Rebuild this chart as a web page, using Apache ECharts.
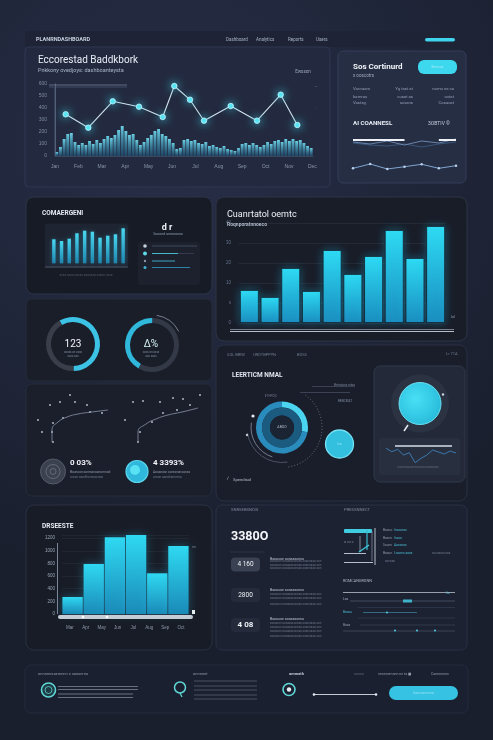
<!DOCTYPE html>
<html><head><meta charset="utf-8">
<script src="https://cdn.jsdelivr.net/npm/echarts@6/dist/echarts.min.js"></script>
<style>html,body{margin:0;padding:0;background:#1d2233;}#c{width:493px;height:740px;}</style>
</head><body><div id="c"></div>
<script>
// ---------- DATA ----------
const trendX = [10.7, 33.3, 57.7, 84, 107.7, 119.3, 135, 149, 175.7, 202, 225.7, 242.3];
const trendY = [41.7, 28.3, 54.7, 49.3, 39, 70, 56.3, 35.3, 50, 35.3, 61.3, 31];
const trendXLabels = ['Jan','Feb','Mar','Apr','May','Jun','Jul','Aug','Sep','Oct','Nov','Dec'];
const trendYLabels = ['0','100','200','300','400','500','600'];
const histValues = [4,9,17,22,23,14,11,13,11,15,12,16,13,17,20,18,21,26,30,25,21,22,16,11,14,18,21,25,27,22,20,17,13,7,8,16,17,15,16,13,12,14,10,11,9,8,10,7,6,5,8,12,13,11,13,11,9,11,14,12,15,16,14,17,15,17,15,16,13,10,8];
const sparkCats = ['1','2','3','4','5','6','7'];
const sparkWhiteA = [32,32,32,32,null,null,null];
const sparkWhiteB = [null,null,null,null,null,32,32];
const sparkBlue = [30,28,31,27,31,29,33];
const sparkBlue2 = [29,27,26,28,25,28,30];
const sparkLow = [3.7,8,3,5.3,7.7,3.7,6.3];
const miniCats = ['a','b','c','d','e','f','g','h','i','j'];
const miniBars = [24,22.3,24.6,30,32.6,31.6,25.6,27.6,29,35];
const compareCats = ['Q1','Q2','Q3','Q4','Q5','Q6','Q7','Q8','Q9','Q10'];
const compareBars = [33,26,55,32,73,49,67,93,65,97];
const compareYLabels = ['0','s','10','20','30','40'];
const gaugeA = [58,42];
const gaugeB = [42,58];
const ringOuter = [28,72];
const starsA = [[20,45],[30,48],[45,48],[57,45],[60,38],[33,32],[23,27],[22,18],[12,18],[23,8],[72,37],[8,30],[40,55]];
const starsB = [[103,48],[113,49],[130,48],[143,52],[153,51],[147,40],[133,37],[122,28],[110,18],[108,8],[160,45],[95,30],[170,55]];
const pathA = [[22,8],[22,20],[28,28],[37,33],[48,36],[62,38],[78,40]];
const pathB = [[108,8],[108,18],[116,26],[126,31],[138,35],[152,38],[168,42]];
const distCats = ['A','B','C','D','E','F'];
const distBars = [269,791,1214,1250,644,1076];
const distYLabels = ['0','200','400','600','800','1000','1200'];
const distXLabels = ['Mar','Apr','May','Jun','Jul','Aug','Sep','Oct'];
const subLine = [17.7,14.3,16.7,11,13.3,3.3,7.7,11,16,14,12,15,13];

// ---------- DECOR ----------
const g = [];
const F = 'Roboto, "DejaVu Sans", sans-serif';
function rect(x,y,w,h,fill,r,stroke,z){ g.push({type:'rect', z: (z===undefined?0:z), silent:true, shape:{x,y,width:w,height:h,r:r||0}, style:{fill, stroke: stroke||'none', lineWidth: stroke?1:0}}); }
function text(x,y,t,size,fill,weight,align){ g.push({type:'text', z:20, silent:true, x, y, style:{text:t, fill:fill||'#cdd5e1', font:(weight||'normal')+' '+size+'px '+F, align:align||'left', verticalAlign:'middle'}}); }
function line(x1,y1,x2,y2,stroke,w,z){ g.push({type:'line', z:(z===undefined?5:z), silent:true, shape:{x1,y1,x2,y2}, style:{stroke, lineWidth:w||1}}); }
function circle(cx,cy,r,fill,stroke,w,z){ g.push({type:'circle', z:(z===undefined?5:z), silent:true, shape:{cx,cy,r}, style:{fill:fill||'none', stroke:stroke||'none', lineWidth:w||1}}); }
function arc(cx,cy,r,sa,ea,stroke,w,dash){ g.push({type:'arc', z:5, silent:true, shape:{cx,cy,r,startAngle:sa,endAngle:ea}, style:{stroke, lineWidth:w||1, fill:'none', lineDash:dash||null}}); }
const LG = (a,b)=> new echarts.graphic.LinearGradient(0,0,0,1,[{offset:0,color:a},{offset:1,color:b}]);

// background
g.push({type:'rect', z:-10, silent:true, shape:{x:0,y:0,width:493,height:740}, style:{fill:new echarts.graphic.RadialGradient(0.35,0.2,0.9,[{offset:0,color:'#272e47'},{offset:1,color:'#1a1f2e'}])}});
// panels
rect(25,31,440,16,'#1e2436',3);
rect(25,47,305,140,'#232a3f',4,'#2e3652');
rect(338,51,128,132,'#262e44',5,'#343d58');
rect(26,197,186,97,'#171b25',8,'#2d3447');
rect(216,197,251,144,'#191d28',8,'#2e3546');
rect(26,299,186,82,'#1a1e29',6,'#262c3a');
rect(26,384,186,112,'#1b1f2b',6,'#262c3a');
rect(216,345,251,156,'#1a1e2a',8,'#2a3042');
rect(374,366,91,116,'#232938',6,'#30384a');
rect(379,438,81,37,'#283040',3);
rect(26,505,186,145,'#181c26',8,'#2a3142');
rect(216,505,251,145,'#1d2232',6,'#283045');
rect(25,665,443,48,'#1b2030',6,'#252b3c');

// header
text(36,39.5,'PLANRNDASHBOARD',5.5,'#c5cedb','bold');
text(226,39.5,'Dashboard',4.5,'#a7b2c4'); text(256,39.5,'Analytics',4.5,'#a7b2c4');
text(288,39.5,'Reports',4.5,'#a7b2c4'); text(316,39.5,'Users',4.5,'#a7b2c4');
rect(425,38,30,3.5,'#3fd3ee',2,null,5);
// panel 1
text(38,60,'Eccorestad Baddkbork',10,'#e8eef6');
text(38,70.5,'Pnkkony ovedjoys: dashboanteysta',5.5,'#a9b5c6');
text(303,72,'Ewsson',4.5,'#9aa6ba','normal','center');
line(49,85,127,85,'#6f7c96',0.8); line(49,87,127,87,'#56627c',0.6);
line(55,87,55,156,'#4e5a74',0.8);
text(316,87,'—',4,'#7c889c','normal','center'); text(316,108,'·',4,'#7c889c','normal','center');

// panel 2
text(353,66.5,'Sos Cortinurd',8,'#f0f4f8','bold');
text(353,75.5,'x ooscotrs',4.5,'#a0acbe');
rect(418,60,39,14,'#3dd8ee',6,null,5);
text(437.5,67,'Bonnus',3.5,'#9beaf6','normal','center');
[[89,'Vaxvaam','Yg tast at','nomo ea ca'],[96.5,'bamrau','cusat as','cotat'],[102.5,'Vastsg','sxxans','Cosacat']].forEach(r=>{
  text(353,r[0],r[1],4.2,'#8f9bb0'); text(413,r[0],r[2],4.2,'#8f9bb0','normal','right'); text(454,r[0],r[3],4.2,'#8f9bb0','normal','right');
});
text(353,123.5,'AI COANNESL',6.2,'#e6ebf2','bold');
text(428,123.5,'3OBTIV ©',5,'#c5cedb');

// row 2 left
text(42,213,'COMAERGENI',6.5,'#e4e9f1','bold');
rect(45,223.5,83,44,'#1e2431',2);
line(45,267,128,267,'#5a6479',0.8);
text(86,275,'sssa sosa sossa asonssa ssson sssa',3.2,'#4e586b','normal','center');
text(167,228,'d r',9,'#eef2f7','bold','center');
text(168,234.5,'Sooond anrononso',3.5,'#8e9ab0','normal','center');
rect(138,242,62,43,'#1c212d',3);
circle(145,246,1.8,'#c6d0dc'); line(152,246,197,246,'#4a5468',0.8);
circle(145,253.5,2,'#5fd9e8'); line(152,253.5,178,253.5,'#4ec8dc',0.9); line(178,253.5,194,253.5,'#3a4358',0.8);
circle(145,261,1.2,'#8a95a8'); line(152,261,175,261,'#3fb3d2',0.9);
circle(145,267.5,1.5,'#3fb3d2'); line(152,267.5,190,267.5,'#2f8fb8',0.9);

// row 2 right
text(227,214.5,'Cuanrtatol oemtc',9,'#edf2f7');
text(227,225,'Roqnporatnnoeco',5,'#aeb9c9','bold');
line(230,329.5,454,329.5,'#8a94a6',0.8); line(230,331.5,454,331.5,'#c9d0da',0.9);
text(453,317,'lul',3.5,'#9aa6ba','normal','center');

// row 3 left (gauges)
text(73,344,'123',10,'#f3f6fa','normal','center');
text(73,352,'oooxs on ooxs',2.8,'#7b879b','normal','center');
text(73,356,'ooxs oox',2.8,'#7b879b','normal','center');
text(151,344,'Δ%',10,'#d8f4f7','normal','center');
text(151,352,'ooxs on ooxs',2.8,'#7b879b','normal','center');
text(151,356,'oox ooxs',2.8,'#7b879b','normal','center');
arc(152,345,30,-Math.PI*0.45,-Math.PI*0.15,'#8c96a8',0.8);

// row 3 left bottom
circle(53,471.5,12.5,'#3b414e','#555c6b',1);
circle(53,471.5,7,'none','#6c7482',0.8); circle(53,471.5,3,'none','#7d8594',0.6);
text(70,463,'0 03%',8,'#f0f3f8','bold');
text(70,472.5,'Bounoon ooresanoanomnod',3.2,'#8e99ac'); text(70,477.5,'oroon aandhomnosnoo',3.2,'#6f7a8e');
circle(137,471.5,11,'#2fb7dc','#5ad3ea',1.2);
circle(135,470,5,'#59e1f4');
text(153,463,'4 3393%',8,'#f0f3f8','bold');
text(153,472.5,'Aooanasn oorssnanoanas',3.2,'#8e99ac'); text(153,477.5,'oroon aanohammna',3.2,'#6f7a8e');

// row 3 right
text(227,355,'SOL BRIW',4,'#707b90'); text(253,355,'UROTBPPYN',4,'#707b90'); text(297,355,'BOSS',4,'#707b90');
text(446,353.5,'Lr 71A',4,'#707b90');
text(232,375,'LEERTICM NMAL',6.5,'#dfe5ee','bold');
text(271,396.5,'ETHPDIC',3,'#6e7a8e','normal','center');
line(312,386.5,355,386.5,'#505a6e',0.6); text(355,385,'Brtnotons mtoo',3,'#7c889c','normal','right');
line(300,392.5,350,392.5,'#505a6e',0.6);
text(352,401.5,'BRNCMAT',3,'#7c889c','normal','right');
circle(282,427.5,12,'#1b2433');
text(282,427.5,'ABOO',3.5,'#b0bccc','normal','center');
arc(282,427.5,31,Math.PI*0.6,Math.PI*1.05,'#8a94a6',0.8);
arc(282,427.5,35,Math.PI*0.45,Math.PI*0.95,'#6b7588',0.6);
arc(282,427.5,40,-Math.PI*0.3,Math.PI*0.45,'#7a8497',0.8,[1,2]);
circle(253,416,1.6,'#e6ecf2'); circle(247,435,1.2,'#c0c8d4');
circle(339.5,444,14,'#33c0df','#74e2f2',1.3);
text(339.5,444,'Iuo',3,'#8fe4f2','normal','center');
circle(420,403.5,29,'#2b3343');
circle(420,403.5,21,new echarts.graphic.RadialGradient(0.4,0.4,0.7,[{offset:0,color:'#49e0f5'},{offset:1,color:'#24b7d8'}]),'#6ae0f1',1);
circle(443,394.5,1.2,'#c9d3de');
line(404,431,408,425,'#e6ecf2',1.5);
line(395,446,452,446,'#d8dee7',1.3);
text(418,467,'oooonssaoonnonnos oanaoooss',2.8,'#5e697c','normal','center');
text(233,480,'Spendisol',4.2,'#aeb8c8');
text(228,479,'⁄',5,'#c9d3de','normal','center');

// row 4 left
text(42,526.5,'DRSEESTE',6.5,'#e6ebf2','bold');
line(57.5,543,57.5,614,'#8892a5',0.9);
rect(58,615,135,4,'#c6ccd6',2,null,5);
circle(83,617,1.3,'#ffffff',null,1,6); circle(107,617,1.3,'#ffffff',null,1,6);
rect(192,610,3,4,'#e6ebf2',0,null,5);
text(194,547.5,'m',3.5,'#9aa5b8','normal','center');

// row 4 right
text(231,510,'SNRSEBSNOSI',4.2,'#7d889c');
text(344,510,'PRESSNNECT',4.2,'#7d889c');
text(231,537,'3380O',12.5,'#f5f7fa','bold');
line(230,552,265,552,'#303849',0.8);
[[557.5,'4 160'],[588,'2800'],[618,'4 08']].forEach((b,i)=>{
  rect(231,b[0],29,14,i===0?'#3a4152':'#252b3a',4,null,3);
  text(245.5,b[0]+7,b[1],i===2?8:6.5,'#eef2f7',i===2?'bold':'normal','center');
});
[[559,561.5,565,568.5],[590,594.5,598.5,604],[619,623,627,631,636]].forEach(grp=>{
  grp.forEach((y,j)=>{ text(270,y, j===0?'Baoouoe aonaasonso':'ssoooon aooasssonaas soanosaa son', j===0?3.5:3, j===0?'#b6c0cf':'#667185'); });
});
rect(344,529,28,4,'#3fcddf',1,null,4);
line(367,530,367,550,'#3fb8cf',1.2); line(360,536,360,552,'#9aa5b8',0.8);
line(375,528,375,565,'#c8d0da',0.9); line(372,531,372,561,'#7e899c',0.8);
line(344,553.5,366,553.5,'#c8d0da',0.9); line(344,562.5,373,562.5,'#c8d0da',0.9);
line(359,552,369,545,'#3fcddf',1.2);
text(344,542,'u ɔɔ ɔ',3.5,'#8e99ac');
[[530.5,'Boouo','lnsoonsn'],[538,'Bosnn','lnsoo'],[545.5,'Sounn','Aaoonos'],[553,'Booun','Lnoonn aoas']].forEach(r=>{
  text(383,r[0],r[1],3.2,'#8e99ac'); text(394,r[0],r[2],3.2,'#47b9cf');
});
text(432,553,'oo oonoo oos',3,'#6e7a8e');
text(385,561,'sonoas',3,'#6e7a8e');
text(343,581.5,'ROMCANGRONN',3.8,'#aab4c4');
line(343,592.5,455,592.5,'#b7c0cc',0.8); text(448,593,'lis',3.2,'#6fd2e2','normal','center');
text(343,599,'Los',3.2,'#a6b0c0'); line(350,601,455,601,'#525d72',0.7); rect(403,599.5,9,3,'#3fb3c8',0,null,6);
line(358,607.5,455,607.5,'#343d50',0.7);
text(343,612.5,'Baoou',3.2,'#46b3c9'); line(363,612.5,417,612.5,'#3e8aa3',0.7); circle(387,612.5,1,'#4fd0e4');
line(358,618,455,618,'#343d50',0.7);
text(343,625,'Boaa',3.2,'#8e99ac'); line(360,625,455,625,'#3a4457',0.7);
line(343,631,455,631,'#4a5569',0.7); circle(395,630.5,1,'#4fd0e4'); circle(417,630.5,1,'#4fd0e4'); circle(435,630.5,1,'#4fd0e4');

// bottom panel
text(38,674,'onnnnnsasmnnn x cassnrno',4,'#8d98ab');
circle(48.5,690,7,'#1e3a42','#5fd6d6',1.6); circle(48.5,690,3.5,'none','#5fd6d6',0.8);
[[686.5,138],[689.5,138],[694,133],[697.5,133]].forEach(r=>line(58,r[0],r[1],r[0],'#7b8598',0.8));
text(193,674,'onnnnnt',4,'#8d98ab');
circle(180,687.5,5.5,'none','#5fd6d6',1.5); line(180,693,182,697,'#5fd6d6',1.2);
[681,686,690,695,699].forEach(y=>line(194,y,257,y,'#5d677a',0.7));
text(289,674,'ommath',4,'#c1cad7','bold');
circle(289,689.5,6,'none','#5fd6d6',1.6); circle(289,689.5,2.2,'#e8eef4');
text(354,674,'unnnn',3.5,'#5d687c'); text(378,674,'nnnnnnmnnn nn ta ■',3.5,'#8d98ab'); text(431,674,'Cannnnnnn',3.5,'#8d98ab');
line(314,694.5,376,694.5,'#d8dee6',0.9); circle(314,694.5,1.3,'#e6ecf2'); circle(376,694.5,1.3,'#e6ecf2');
rect(389,686,69,14,'#36c2e2',7,null,4);
text(423.5,693,'Sounnonnnnnn',3.2,'#8fe2f2','normal','center');

// ---------- CHART ----------
const chart = echarts.init(document.getElementById('c'), null, {renderer:'canvas'});
const hid = {show:false};
chart.setOption({
  animation:false,
  graphic:{elements:g},
  grid:[
    {left:55, top:84, width:258, height:72},
    {left:353, top:132, width:103, height:40},
    {left:50, top:223.3, width:77, height:40},
    {left:239, top:223, width:207, height:100},
    {left:30, top:390, width:180, height:60},
    {left:62, top:535, width:127, height:79},
    {left:386, top:444, width:70, height:22}
  ],
  xAxis:[
    {gridIndex:0, type:'value', min:0, max:258, interval:23.4,
      axisLine:{show:true, lineStyle:{color:'#3d4660'}}, axisTick:hid, splitLine:hid,
      axisLabel:{fontSize:5, color:'#8a95a8', margin:8, formatter:(v)=>trendXLabels[Math.round(v/23.4)]||''}},
    {gridIndex:0, type:'category', data:histValues.map((v,i)=>'h'+i), show:false},
    {gridIndex:1, type:'category', data:sparkCats, boundaryGap:false, show:false},
    {gridIndex:2, type:'category', data:miniCats, show:false},
    {gridIndex:3, type:'category', data:compareCats, axisLine:hid, axisTick:hid, axisLabel:hid},
    {gridIndex:4, type:'value', min:0, max:180, show:false},
    {gridIndex:5, type:'category', data:distCats, axisLine:hid, axisTick:hid, axisLabel:hid},
    {gridIndex:5, type:'category', data:distXLabels, position:'bottom', axisLine:hid, axisTick:hid,
      axisLabel:{fontSize:4.5, color:'#8e99ac', margin:11, interval:0}},
    {gridIndex:6, type:'category', data:subLine.map((v,i)=>'s'+i), boundaryGap:false, show:false}
  ],
  yAxis:[
    {gridIndex:0, type:'value', min:0, max:72, interval:12,
      axisLine:{show:true, lineStyle:{color:'#59647c'}}, axisTick:hid, splitLine:hid,
      axisLabel:{fontSize:5, color:'#7f8ba0', margin:8, formatter:(v)=>trendYLabels[Math.round(v/12)]||''}},
    {gridIndex:1, type:'value', min:0, max:40, show:false},
    {gridIndex:2, type:'value', min:0, max:40, show:false},
    {gridIndex:3, type:'value', min:0, max:100, interval:20, axisLine:hid, axisTick:hid,
      splitLine:{show:true, lineStyle:{color:'#262c39', width:0.8}},
      axisLabel:{fontSize:4.5, color:'#66718a', margin:8, formatter:(v)=>compareYLabels[Math.round(v/20)]||''}},
    {gridIndex:4, type:'value', min:0, max:60, show:false},
    {gridIndex:5, type:'value', min:0, max:1250, interval:200, axisLine:hid, axisTick:hid,
      splitLine:{show:true, lineStyle:{color:'#232936', width:0.8}},
      axisLabel:{fontSize:4.5, color:'#9aa5b8', margin:7, formatter:(v)=>distYLabels[Math.round(v/200)]||''}},
    {gridIndex:6, type:'value', min:0, max:22, show:false}
  ],
  series:[
    {type:'bar', xAxisIndex:1, yAxisIndex:0, data:histValues, barCategoryGap:'20%', silent:true,
      itemStyle:{color:LG('rgba(110,215,235,0.95)','rgba(30,95,135,0.55)')}},
    {type:'line', xAxisIndex:0, yAxisIndex:0, data:trendX.map((x,i)=>[x,trendY[i]]), silent:true,
      lineStyle:{color:'#cfe3ee', width:1.1}, symbol:'circle', symbolSize:5.5,
      itemStyle:{color:'#5ce6f5', borderColor:'#c4f6fb', borderWidth:0.8, shadowBlur:8, shadowColor:'#3fd8f0'}},
    {type:'line', xAxisIndex:2, yAxisIndex:1, data:sparkBlue2, symbol:'none', lineStyle:{color:'#3d5f86', width:0.8}, silent:true},
    {type:'line', xAxisIndex:2, yAxisIndex:1, data:sparkBlue, symbol:'none', lineStyle:{color:'#6f8db4', width:0.9}, silent:true},
    {type:'line', xAxisIndex:2, yAxisIndex:1, data:sparkWhiteA, symbol:'none', lineStyle:{color:'#eef2f6', width:2}, silent:true},
    {type:'line', xAxisIndex:2, yAxisIndex:1, data:sparkWhiteB, symbol:'none', lineStyle:{color:'#eef2f6', width:2}, silent:true},
    {type:'line', xAxisIndex:2, yAxisIndex:1, data:sparkLow, symbol:'circle', symbolSize:2.5, itemStyle:{color:'#b9d2ea'}, lineStyle:{color:'#7fa5cf', width:1}, silent:true},
    {type:'bar', xAxisIndex:3, yAxisIndex:2, data:miniBars, barWidth:3.4, silent:true,
      itemStyle:{color:LG('#49d8f0','#1d84ae'), shadowBlur:4, shadowColor:'rgba(60,200,240,0.4)'}},
    {type:'bar', xAxisIndex:4, yAxisIndex:3, data:compareBars, barCategoryGap:'9%', silent:true,
      itemStyle:{color:LG('#2fdcf4','#1a8dbf'), borderColor:'#10202c', borderWidth:0.8, shadowBlur:10, shadowColor:'rgba(40,190,235,0.35)'}},
    {type:'pie', center:[73,344], radius:[22,27], startAngle:120, silent:true, label:hid, labelLine:hid,
      data:gaugeA.map((v,i)=>({value:v, itemStyle:{color:i===0?'#3bc2e4':'#393e4a'}}))},
    {type:'pie', center:[152,345], radius:[22,27], startAngle:240, silent:true, label:hid, labelLine:hid,
      data:gaugeB.map((v,i)=>({value:v, itemStyle:{color:i===0?'#2fb8dc':'#333946'}}))},
    {type:'pie', center:[282,427.5], radius:[20,26], startAngle:90, silent:true, label:hid, labelLine:hid,
      data:ringOuter.map((v,i)=>({value:v, itemStyle:{color:i===0?'#4ad4ef':'#2a8bbd'}}))},
    {type:'pie', center:[282,427.5], radius:[12,20], silent:true, label:hid, labelLine:hid,
      data:[{value:1, itemStyle:{color:'#1c5b80'}}]},
    {type:'line', xAxisIndex:5, yAxisIndex:4, data:pathA, symbol:'none', smooth:true, lineStyle:{color:'#8a96aa', width:0.8}, silent:true},
    {type:'line', xAxisIndex:5, yAxisIndex:4, data:pathB, symbol:'none', smooth:true, lineStyle:{color:'#8a96aa', width:0.8}, silent:true},
    {type:'scatter', xAxisIndex:5, yAxisIndex:4, data:starsA.concat(starsB), symbolSize:2, itemStyle:{color:'#d4dde8'}, silent:true},
    {type:'bar', xAxisIndex:6, yAxisIndex:5, data:distBars, barCategoryGap:'4%', silent:true,
      itemStyle:{color:LG('#2fd9f2','#1a8ab8'), shadowBlur:10, shadowColor:'rgba(40,190,235,0.35)'}},
    {type:'line', xAxisIndex:8, yAxisIndex:6, data:subLine, symbol:'none', lineStyle:{color:'#3f7fb8', width:0.9}, silent:true}
  ]
});
</script></body></html>
